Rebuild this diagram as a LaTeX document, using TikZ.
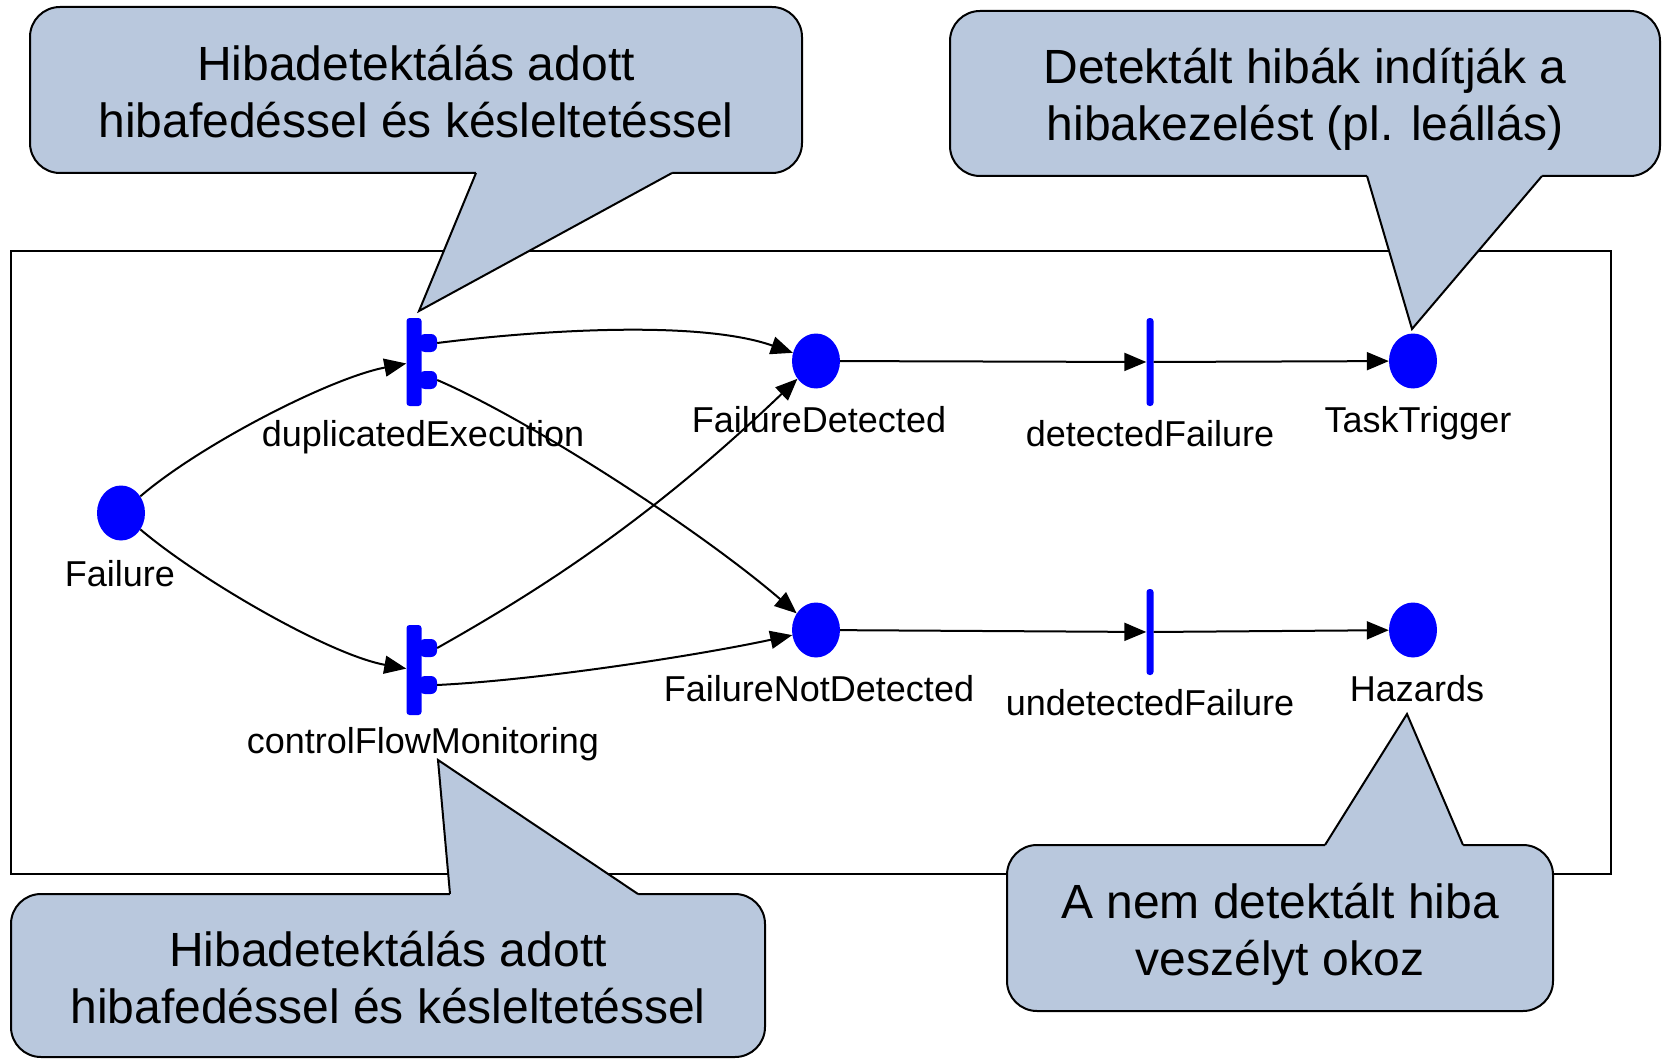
\documentclass[tikz,border=0pt]{standalone}
\usepackage{fontspec}
\setmainfont{Liberation Sans}
\usetikzlibrary{arrows.meta,shapes.geometric}
\definecolor{calloutblue}{RGB}{185,200,221}
\definecolor{netblue}{RGB}{0,0,255}
\tikzset{
  place/.style={ellipse, fill=netblue, minimum width=48pt, minimum height=55pt, inner sep=0pt},
  bar/.style={rectangle, fill=netblue, minimum width=15pt, minimum height=88pt, inner sep=0pt, rounded corners=3pt},
  thinbar/.style={bar, minimum width=7pt},
  nub/.style={rectangle, fill=netblue, minimum width=18pt, minimum height=18pt, inner sep=0pt, rounded corners=6pt},
  netlabel/.style={anchor=base, inner sep=0pt, font=\fontsize{36}{36}\selectfont},
  arc/.style={draw=black, line width=2pt, -{Triangle[length=22pt,width=18pt]}},
  callout/.style={draw, line width=2pt, fill=calloutblue, rounded corners=30pt, inner sep=0pt},
  notetext/.style={align=center, inner sep=0pt, font=\fontsize{48}{57}\selectfont},
  tailfill/.style={fill=calloutblue},
  tailedge/.style={draw, line width=2pt, line join=miter},
}
\begin{document}
\begin{tikzpicture}[x=1pt,y=-1pt]
\useasboundingbox (0,0) rectangle (1665,1059);
% frame of the net
\draw[line width=2pt] (11,251) rectangle (1611,874);

% places
\node[place] (failure) at (121,513) {};
\node[place] (fd) at (816,361) {};
\node[place] (fnd) at (816,630) {};
\node[place] (task) at (1413,361) {};
\node[place] (hazards) at (1413,630) {};

% transitions
\node[nub] (dup-o1) at (428,343) {};
\node[nub] (dup-o2) at (428,380) {};
\node[bar] (dup) at (414,362) {};
\node[nub] (cfm-o1) at (428,648) {};
\node[nub] (cfm-o2) at (428,685) {};
\node[bar, minimum height=90pt] (cfm) at (414,670) {};
\node[thinbar] (df) at (1150,362) {};
\node[thinbar, minimum height=86pt] (uf) at (1150,632) {};

% labels
\node[netlabel] (failure-lbl) at (120,586) {Failure};
\node[netlabel] (dup-lbl) at (423,446) {duplicatedExecution};
\node[netlabel] (cfm-lbl) at (423,753) {controlFlowMonitoring};
\node[netlabel] (fd-lbl) at (819,432) {FailureDetected};
\node[netlabel] (fnd-lbl) at (819,701) {FailureNotDetected};
\node[netlabel] (df-lbl) at (1150,446) {detectedFailure};
\node[netlabel] (uf-lbl) at (1150,715) {undetectedFailure};
\node[netlabel] (task-lbl) at (1418,432) {TaskTrigger};
\node[netlabel] (hazards-lbl) at (1417,701) {Hazards};

% arcs
\draw[arc] (failure) .. controls (200,445) and (330,378) .. (dup);
\draw[arc] (failure) .. controls (200,580) and (330,655) .. (cfm);
\draw[arc] (dup-o1.east) .. controls (540,330) and (700,320) .. (fd);
\draw[arc] (dup-o2.east) .. controls (530,420) and (700,530) .. (fnd);
\draw[arc] (cfm-o1.east) .. controls (540,590) and (650,520) .. (fd);
\draw[arc] (cfm-o2.east) .. controls (540,680) and (700,655) .. (fnd);
\draw[arc] (fd) -- (df);
\draw[arc] (df) -- (task);
\draw[arc] (fnd) -- (uf);
\draw[arc] (uf) -- (hazards);

% callouts
\node[callout, minimum width=772pt, minimum height=166pt] (note-dup) at (416,90) {};
\fill[tailfill] (476,173) -- (419,311) -- (672,173) -- (672,169) -- (476,169) -- cycle;
\draw[tailedge] (476,173) -- (419,311) -- (672,173);
\node[notetext] (note-dup-text) at (416,92) {Hibadetektálás adott\\hibafedéssel és késleltetéssel};

\node[callout, minimum width=710pt, minimum height=165pt] (note-task) at (1305,93.5) {};
\fill[tailfill] (1367,176) -- (1412,329) -- (1542,176) -- (1542,172) -- (1367,172) -- cycle;
\draw[tailedge] (1367,176) -- (1412,329) -- (1542,176);
\node[notetext] (note-task-text) at (1305,99) {Detektált hibák indítják a\\hibakezelést (pl. leállás)};

\node[callout, minimum width=754pt, minimum height=163pt] (note-cfm) at (388,975.5) {};
\fill[tailfill] (450,894) -- (438,760) -- (638,894) -- (638,898) -- (450,898) -- cycle;
\draw[tailedge] (450,894) -- (438,760) -- (638,894);
\node[notetext] (note-cfm-text) at (388,978) {Hibadetektálás adott\\hibafedéssel és késleltetéssel};

\node[callout, minimum width=546pt, minimum height=166pt] (note-hazards) at (1280,928) {};
\fill[tailfill] (1325,845) -- (1407,714) -- (1463,845) -- (1463,849) -- (1325,849) -- cycle;
\draw[tailedge] (1325,845) -- (1407,714) -- (1463,845);
\node[notetext] (note-hazards-text) at (1280,934) {A nem detektált hiba\\veszélyt okoz};
\end{tikzpicture}
\end{document}
